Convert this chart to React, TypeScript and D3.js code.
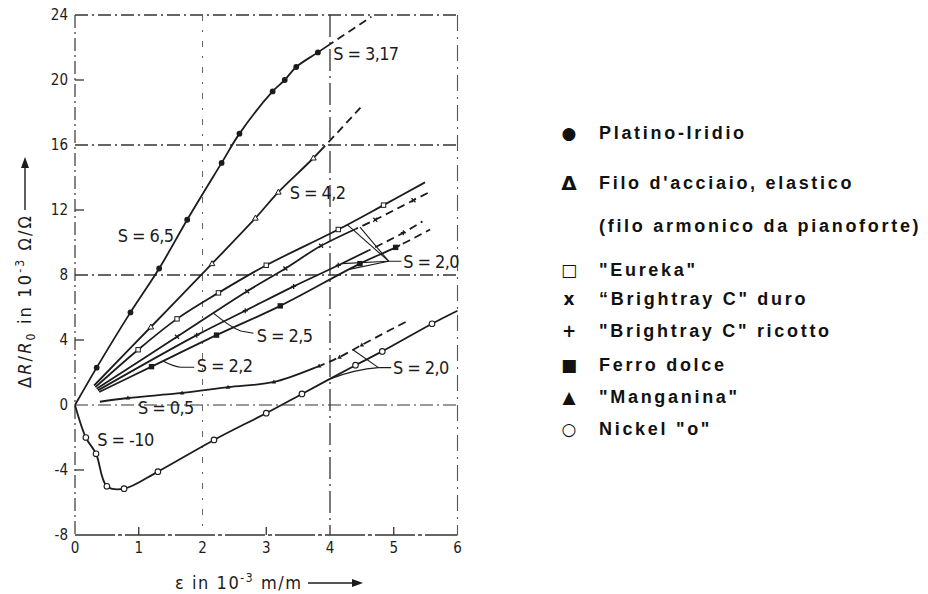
import React from "react";
import * as d3 from "d3";

type P = [number, number];

// ---------- axes ----------
const xTicks = [0, 1, 2, 3, 4, 5, 6];
const yTicks = [24, 20, 16, 12, 8, 4, 0, -4, -8];
const yGrid = [16, 8, 0];
const xGrid = [2, 4];
const yMinor = [20, 12, 4, -4];
const xMinor = [1, 3, 5];

// ---------- series (ε in 1e-3 m/m, ΔR/R0 in 1e-3) ----------
const platino: P[] = [[0, 0], [0.34, 2.3], [0.87, 5.7], [1.32, 8.4], [1.76, 11.4], [2.3, 14.9], [2.58, 16.7], [3.1, 19.3], [3.29, 20.0], [3.47, 20.8], [3.81, 21.7], [4.65, 23.9]];
const acciaio: P[] = [[0.3, 1.2], [1.19, 4.8], [2.15, 8.7], [2.83, 11.5], [3.19, 13.1], [3.74, 15.2], [4.5, 18.4]];
const eureka: P[] = [[0.32, 1.1], [0.99, 3.4], [1.6, 5.3], [2.25, 6.9], [3.0, 8.6], [4.13, 10.8], [4.84, 12.3], [5.49, 13.7]];
const brightDuro: P[] = [[0.34, 1.0], [1.6, 4.2], [2.7, 7.0], [3.3, 8.4], [3.86, 9.8], [4.71, 11.4], [5.31, 12.6], [5.56, 13.1]];
const brightRicotto: P[] = [[0.36, 0.9], [1.91, 4.3], [2.67, 5.8], [3.43, 7.3], [4.13, 8.6], [5.15, 10.6], [5.45, 11.3]];
const ferro: P[] = [[0.38, 0.8], [1.2, 2.36], [2.22, 4.3], [3.22, 6.1], [4.47, 8.7], [5.03, 9.7], [5.57, 10.8]];
const manganina: P[] = [[0.39, 0.2], [0.83, 0.43], [1.68, 0.74], [2.4, 1.1], [3.12, 1.42], [3.83, 2.4], [4.15, 2.95], [4.5, 3.7], [5.23, 5.2]];
const nickel: P[] = [[0, 0], [0.17, -2.0], [0.33, -3.0], [0.5, -5.0], [0.77, -5.15], [1.3, -4.1], [2.18, -2.15], [3.0, -0.5], [3.56, 0.68], [4.4, 2.45], [4.82, 3.3], [5.6, 5.0], [6.0, 5.8]];

// where each curve turns into a dashed extrapolation (null = solid throughout)
const dashFrom: Record<string, number | null> = {
  platino: 4.0, acciaio: 3.92, eureka: null, brightDuro: 4.4, brightRicotto: 4.6, ferro: 5.1, manganina: 3.85, nickel: null,
};

// ---------- annotations ----------
const labelTexts = ["S = 3,17", "S = 4,2", "S = 6,5", "S = 2,5", "S = 2,2", "S = 0,5", "S = -10", "S = 2,0", "S = 2,0"];
const labelPos: P[] = [[4.05, 21.65], [3.37, 13.05], [0.67, 10.45], [2.85, 4.3], [1.91, 2.4], [0.99, -0.18], [0.35, -2.15], [5.15, 8.8], [4.99, 2.28]];

// ---------- legend ----------
const legendSymbols = ["●", "Δ", "", "□", "x", "+", "■", "▲", "○"];
const legendTexts = ["Platino-Iridio", "Filo d'acciaio, elastico", "(filo armonico da pianoforte)", "\"Eureka\"", "“Brightray C\" duro", "\"Brightray C\" ricotto", "Ferro dolce", "\"Manganina\"", "Nickel \"o\""];
const legendRowY = [133, 183, 226, 270, 299, 331, 365, 397, 429];

const INK = "#1c1c1c";
const LABEL_FONT = "'DejaVu Sans Condensed', 'Liberation Sans Narrow', 'DejaVu Sans', sans-serif";
const LEGEND_FONT = "'Liberation Sans', Arial, 'DejaVu Sans', sans-serif";

function interp(pts: P[], e: number): number {
  for (let i = 0; i < pts.length - 1; i++) {
    const [x0, y0] = pts[i], [x1, y1] = pts[i + 1];
    if (e >= x0 && e <= x1) return y0 + ((e - x0) / (x1 - x0)) * (y1 - y0);
  }
  return pts[pts.length - 1][1];
}

export default function App() {
  const x = d3.scaleLinear().domain([0, 6]).range([75, 457.5]);
  const y = d3.scaleLinear().domain([-8, 24]).range([535, 15]);
  const line = d3.line<P>().x((d) => x(d[0])).y((d) => y(d[1])).curve(d3.curveCatmullRom.alpha(0.5));

  const series: { id: string; pts: P[]; marker: string }[] = [
    { id: "platino", pts: platino, marker: "dot" },
    { id: "acciaio", pts: acciaio, marker: "tri" },
    { id: "eureka", pts: eureka, marker: "sq" },
    { id: "brightDuro", pts: brightDuro, marker: "x" },
    { id: "brightRicotto", pts: brightRicotto, marker: "plus" },
    { id: "ferro", pts: ferro, marker: "bsq" },
    { id: "manganina", pts: manganina, marker: "ftri" },
    { id: "nickel", pts: nickel, marker: "circ" },
  ];

  const mark = (type: string, cx: number, cy: number, k: string) => {
    switch (type) {
      case "dot":
        return <circle key={k} cx={cx} cy={cy} r={2.9} fill={INK} />;
      case "tri":
        return <path key={k} d={`M${cx},${cy - 3}L${cx + 2.8},${cy + 2}L${cx - 2.8},${cy + 2}Z`} fill="#fff" stroke={INK} strokeWidth={1} />;
      case "sq":
        return <rect key={k} x={cx - 2.2} y={cy - 2.2} width={4.4} height={4.4} fill="#fff" stroke={INK} strokeWidth={1} />;
      case "x":
        return <path key={k} d={`M${cx - 2},${cy - 2}L${cx + 2},${cy + 2}M${cx - 2},${cy + 2}L${cx + 2},${cy - 2}`} stroke={INK} strokeWidth={1.3} />;
      case "plus":
        return <path key={k} d={`M${cx - 2.5},${cy}L${cx + 2.5},${cy}M${cx},${cy - 2.5}L${cx},${cy + 2.5}`} stroke={INK} strokeWidth={1.3} />;
      case "bsq":
        return <rect key={k} x={cx - 2.7} y={cy - 2.7} width={5.4} height={5.4} fill={INK} />;
      case "ftri":
        return <path key={k} d={`M${cx},${cy - 2.5}L${cx + 2.3},${cy + 1.6}L${cx - 2.3},${cy + 1.6}Z`} fill={INK} />;
      case "circ":
        return <circle key={k} cx={cx} cy={cy} r={2.8} fill="#fff" stroke={INK} strokeWidth={1.1} />;
    }
    return null;
  };

  const gridDash = "13 4 2 4";

  // pointer lines for annotations
  const pt = (e: number, v: number) => `${x(e)},${y(v)}`;
  const pointers: string[] = [
    // S = 2,5
    `M${pt(2.17, interp(brightDuro, 2.17))}Q${pt(2.45, 4.75)} ${pt(2.6, 4.55)}L${pt(2.8, 4.42)}`,
    // S = 2,2
    `M${pt(1.38, interp(ferro, 1.38))}Q${pt(1.55, 2.35)} ${pt(1.66, 2.32)}L${pt(1.87, 2.32)}`,
    // S = 2,0 upper
    `M${pt(4.27, interp(eureka, 4.27))}L${pt(4.92, 8.85)}`,
    `M${pt(4.47, interp(brightDuro, 4.47))}L${pt(4.92, 8.85)}`,
    `M${pt(4.18, interp(brightRicotto, 4.18))}L${pt(4.92, 8.85)}`,
    `M${pt(4.3, interp(ferro, 4.3))}L${pt(4.92, 8.85)}L${pt(5.12, 8.85)}`,
    // S = 2,0 lower
    `M${pt(4.36, interp(manganina, 4.36))}L${pt(4.76, 2.3)}`,
    `M${pt(4.0, interp(nickel, 4.0))}Q${pt(4.4, 2.2)} ${pt(4.76, 2.3)}L${pt(4.96, 2.3)}`,
  ];

  return (
    <svg width={928} height={594} style={{ position: "absolute", left: 0, top: 0, background: "#fff" }}>
      <defs>
        {series.map((s) => {
          const d = dashFrom[s.id];
          if (d == null) return null;
          return (
            <g key={s.id}>
              <clipPath id={`solid-${s.id}`}>
                <rect x={0} y={0} width={x(d)} height={594} />
              </clipPath>
              <clipPath id={`dash-${s.id}`}>
                <rect x={x(d)} y={0} width={928 - x(d)} height={594} />
              </clipPath>
            </g>
          );
        })}
      </defs>

      {/* frame */}
      <line x1={x(0)} x2={x(6)} y1={y(24)} y2={y(24)} stroke="#333" strokeWidth={1.6} strokeDasharray={gridDash} />
      <line x1={x(0)} x2={x(6)} y1={y(-8)} y2={y(-8)} stroke="#333" strokeWidth={1.6} strokeDasharray="40 3 4 3" />
      <line x1={x(0)} x2={x(0)} y1={y(24)} y2={y(-8)} stroke="#444" strokeWidth={1.3} strokeDasharray={gridDash} />
      <line x1={x(6)} x2={x(6)} y1={y(24)} y2={y(-8)} stroke="#555" strokeWidth={1.1} strokeDasharray="16 6 2 6" />

      {/* grid */}
      {yGrid.map((v) => (
        <line key={`gy${v}`} x1={x(0)} x2={x(6)} y1={y(v)} y2={y(v)} stroke="#333" strokeWidth={v === 0 ? 1.2 : 1.5} strokeDasharray={gridDash} />
      ))}
      <line x1={x(xGrid[0])} x2={x(xGrid[0])} y1={y(24)} y2={y(-8)} stroke="#666" strokeWidth={1} strokeDasharray="6 9 2 9" />
      <line x1={x(xGrid[1])} x2={x(xGrid[1])} y1={y(24)} y2={y(-8)} stroke="#333" strokeWidth={1.3} strokeDasharray="22 5 2 5" />

      {/* minor ticks */}
      {yMinor.map((v) => (
        <line key={`my${v}`} x1={x(0)} x2={x(0) + 9} y1={y(v)} y2={y(v)} stroke="#333" strokeWidth={1.3} />
      ))}
      {xMinor.map((e) => (
        <line key={`mx${e}`} x1={x(e)} x2={x(e)} y1={y(-8)} y2={y(-8) - 8} stroke="#333" strokeWidth={1.3} />
      ))}

      {/* tick labels */}
      {yTicks.map((v) => (
        <text key={`ty${v}`} x={68} y={y(v)} dy="0.35em" textAnchor="end" fontSize={15} fontFamily={LABEL_FONT} fill={INK}>
          {v}
        </text>
      ))}
      {xTicks.map((e) => (
        <text key={`tx${e}`} x={x(e)} y={548} dy="0.35em" textAnchor="middle" fontSize={15} fontFamily={LABEL_FONT} fill={INK}>
          {e}
        </text>
      ))}

      {/* axis titles */}
      <g transform="translate(31,388) rotate(-90)">
        <text x={0} y={0} fontSize={18} fontFamily={LABEL_FONT} fill={INK} textLength={172} lengthAdjust="spacing">
          <tspan>Δ</tspan>
          <tspan fontStyle="italic">R</tspan>
          <tspan>/</tspan>
          <tspan fontStyle="italic">R</tspan>
          <tspan fontSize={12} dy={4}>0</tspan>
          <tspan dy={-4}> in 10</tspan>
          <tspan fontSize={12} dy={-7}>-3</tspan>
          <tspan dy={7}> Ω/Ω</tspan>
        </text>
        <line x1={178} x2={222} y1={-6} y2={-6} stroke={INK} strokeWidth={1.4} />
        <path d="M231,-6 L220,-10 L220,-2 Z" fill={INK} />
      </g>
      <text x={175} y={589} fontSize={18} fontFamily={LABEL_FONT} fill={INK} textLength={126} lengthAdjust="spacing">
        <tspan>ε in 10</tspan>
        <tspan fontSize={12} dy={-7}>-3</tspan>
        <tspan dy={7}> m/m</tspan>
      </text>
      <line x1={308} x2={354} y1={583} y2={583} stroke={INK} strokeWidth={1.4} />
      <path d="M363,583 L352,579 L352,587 Z" fill={INK} />

      {/* curves */}
      {series.map((s) => {
        const d = dashFrom[s.id];
        const path = line(s.pts) || "";
        if (d == null) {
          return <path key={s.id} d={path} fill="none" stroke={INK} strokeWidth={1.8} />;
        }
        return (
          <g key={s.id}>
            <path d={path} fill="none" stroke={INK} strokeWidth={1.8} clipPath={`url(#solid-${s.id})`} />
            <path d={path} fill="none" stroke={INK} strokeWidth={1.8} strokeDasharray="8 5" clipPath={`url(#dash-${s.id})`} />
          </g>
        );
      })}

      {/* markers */}
      {series.map((s) => (
        <g key={`m-${s.id}`}>
          {s.pts.slice(1, -1).map((p, i) => mark(s.marker, x(p[0]), y(p[1]), `${s.id}-${i}`))}
        </g>
      ))}

      {/* pointer lines */}
      {pointers.map((d, i) => (
        <path key={`p${i}`} d={d} fill="none" stroke={INK} strokeWidth={1.1} />
      ))}

      {/* labels */}
      {labelTexts.map((t, i) => (
        <text key={`l${i}`} x={x(labelPos[i][0])} y={y(labelPos[i][1])} dy="0.36em" fontSize={18} letterSpacing={-0.6} fontFamily={LABEL_FONT} fill={INK}>
          {t}
        </text>
      ))}

      {/* legend */}
      {legendTexts.map((t, i) => (
        <g key={`lg${i}`}>
          {legendSymbols[i] && (
            <text x={569} y={legendRowY[i]} dy="0.35em" textAnchor="middle" fontSize={legendSymbols[i] === "Δ" ? 20 : 17} fontWeight="bold" fontFamily="'DejaVu Sans', sans-serif" fill="#111">
              {legendSymbols[i]}
            </text>
          )}
          <text x={599} y={legendRowY[i]} dy="0.35em" fontSize={18} fontWeight="bold" letterSpacing={2.7} fontFamily={LEGEND_FONT} fill="#111">
            {t}
          </text>
        </g>
      ))}
    </svg>
  );
}
